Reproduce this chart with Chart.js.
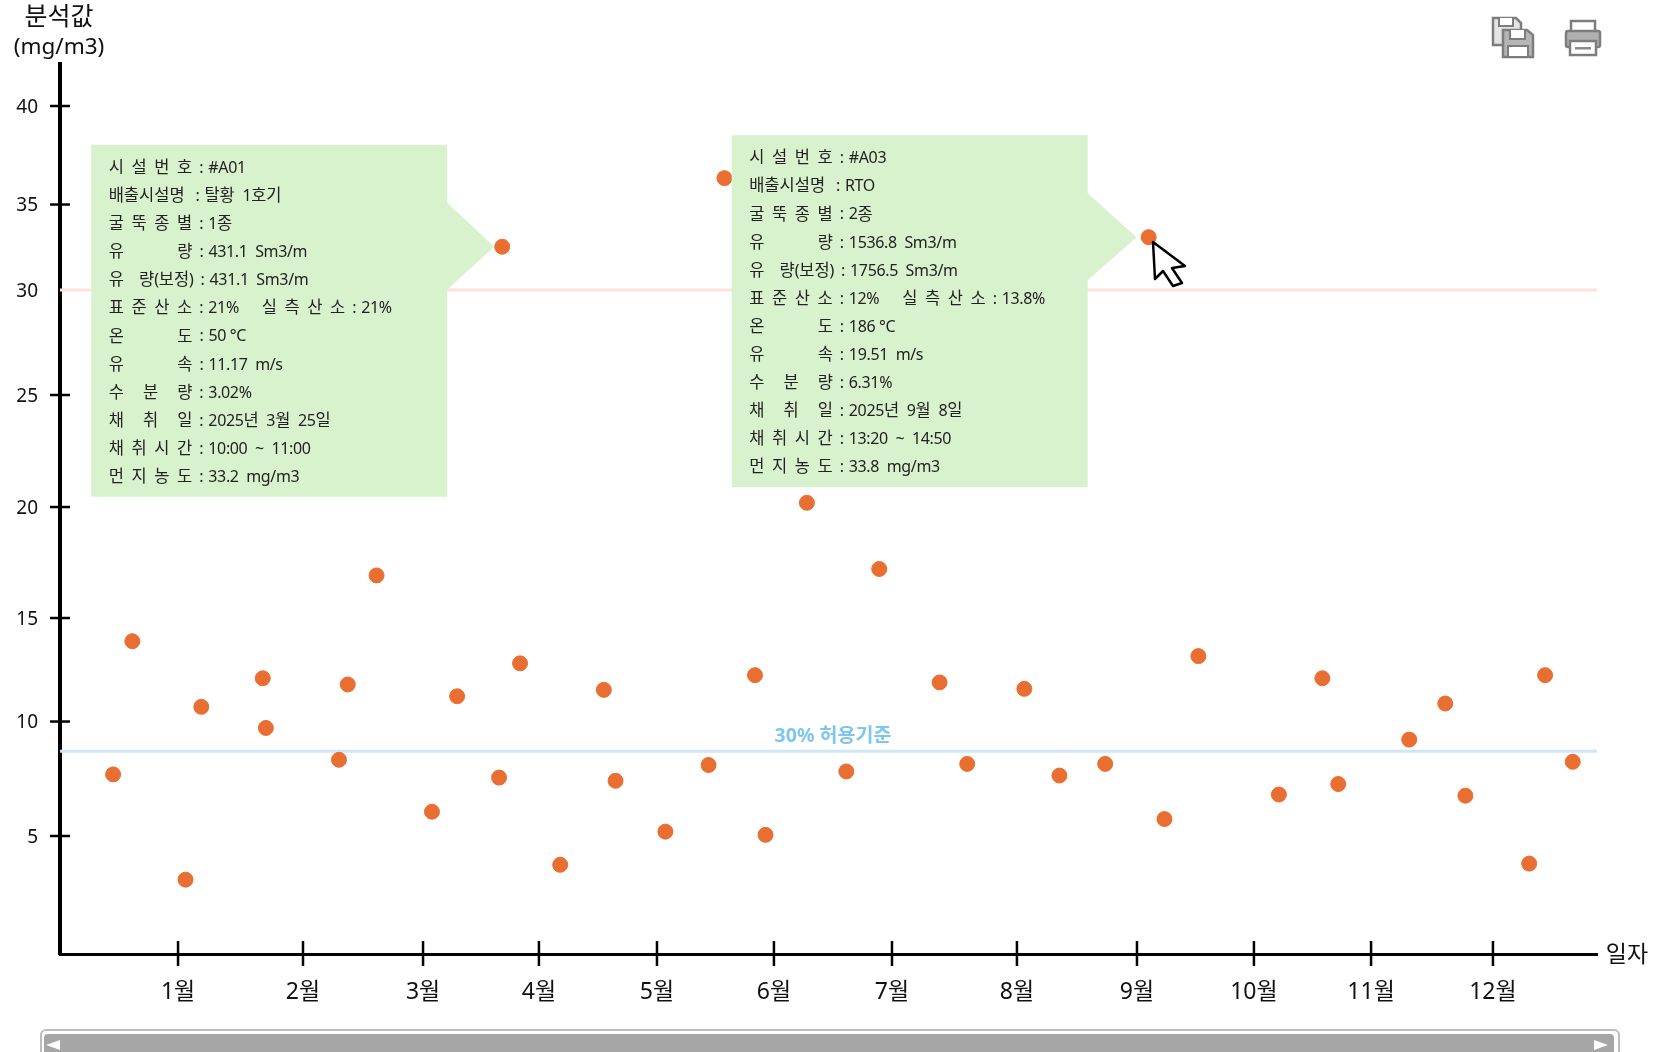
<!DOCTYPE html>
<html lang="ko">
<head>
<meta charset="utf-8">
<title>분석값</title>
<script src="https://cdn.jsdelivr.net/npm/chart.js@4/dist/chart.umd.min.js"></script>
<style>
    html, body { margin: 0; padding: 0; background: #fff; overflow: hidden; }
    #wrap { position: relative; width: 1661px; height: 1052px; overflow: hidden; }
    #chart { position: absolute; left: 0; top: 0; }
    .icon { position: absolute; }
    #scrollFrame { position: absolute; left: 40px; top: 1029px; width: 1580px; height: 40px; border: 2px solid #bdbdbd; border-radius: 6px; box-sizing: border-box; }
    #scrollBar { position: absolute; left: 2px; top: 3px; right: 4px; height: 30px; background: #a6a6a6; border-radius: 4px; }
    .arrow { position: absolute; top: 6px; width: 0; height: 0; border-top: 5px solid transparent; border-bottom: 5px solid transparent; }
    #arrowLeft { left: 2px; border-right: 14px solid #fff; }
    #arrowRight { right: 6px; border-left: 14px solid #fff; }
</style>
</head>
<body>
<div id="wrap">
    <canvas id="chart" width="1661" height="1052"></canvas>

    <svg class="icon" style="left:1490px;top:15px" width="46" height="44" viewBox="0 0 46 44">
        <path d="M3 3H26L31 8V30H3Z" fill="#e4e4e4" stroke="#7d7d7d" stroke-width="2.5"/>
        <path d="M9 3V11H23V3" fill="#fff" stroke="#7d7d7d" stroke-width="2"/>
        <path d="M13 15H37L43 20V42H13Z" fill="#b5b5b5" stroke="#7d7d7d" stroke-width="2.5"/>
        <path d="M20 15V24H35V15" fill="#fff" stroke="#7d7d7d" stroke-width="2"/>
        <rect x="18" y="31" width="20" height="11" fill="#fff" stroke="#7d7d7d" stroke-width="2"/>
    </svg>
    <svg class="icon" style="left:1564px;top:18px" width="38" height="40" viewBox="0 0 38 40">
        <rect x="7" y="3" width="24" height="11" fill="#fff" stroke="#7d7d7d" stroke-width="2.5"/>
        <rect x="2" y="13" width="34" height="16" rx="2" fill="#b0b0b0" stroke="#7d7d7d" stroke-width="2.5"/>
        <rect x="6" y="23" width="26" height="14" fill="#fff" stroke="#7d7d7d" stroke-width="2.5"/>
        <rect x="11" y="29" width="16" height="2.5" fill="#8a8a8a"/>
    </svg>
    <svg class="icon" style="left:1148px;top:238px" width="44" height="52" viewBox="0 0 44 52">
        <path d="M5 4L37 28L24 30L34 45L25 48L15 33L7 41Z" fill="#fff" stroke="#000" stroke-width="2.5" stroke-linejoin="round"/>
    </svg>

    <div id="scrollFrame">
        <div id="scrollBar">
            <div class="arrow" id="arrowLeft"></div>
            <div class="arrow" id="arrowRight"></div>
        </div>
    </div>
</div>

<script>
// Month ticks and the uneven y axis ticks
const monthTicks = [1, 2, 3, 4, 5, 6, 7, 8, 9, 10, 11, 12];
const monthLabels = ['1월', '2월', '3월', '4월', '5월', '6월', '7월', '8월', '9월', '10월', '11월', '12월'];
const valueTicks = [5, 10, 15, 20, 25, 30, 35, 40];

// Measured points: fractional month and analysis value
const pointMonth = [
    0.483, 0.636, 1.06, 1.186, 1.678, 1.703, 2.30, 2.373, 2.613, 3.077, 3.294, 3.656, 3.683, 3.837,
    4.18, 4.55, 4.649, 5.072, 5.441, 5.577, 5.838, 5.928, 6.279, 6.613, 6.892, 7.381, 7.602, 8.062,
    8.354, 8.735, 9.10, 9.235, 9.525, 10.213, 10.584, 10.72, 11.313, 11.609, 11.774, 12.296, 12.426, 12.652
];
const pointValue = [
    7.69, 13.88, 3.15, 10.71, 12.09, 9.72, 8.33, 11.79, 16.92, 6.06, 11.22, 7.55, 32.53, 12.81,
    3.78, 11.53, 7.41, 5.19, 8.10, 36.34, 12.24, 5.05, 20.19, 7.82, 17.21, 11.89, 8.15, 11.58,
    7.64, 8.15, 33.09, 5.74, 13.16, 6.81, 12.09, 7.27, 9.21, 10.87, 6.76, 3.83, 12.24, 8.24
];

// Reference lines
const limitLineMonth = [0.06, 12.85];
const limitValue = [30, 30];
const allowValue = [8.7, 8.7];
const allowLabel = '30% 허용기준';

// Callout contents
const calloutA01 = [
    '시  설  번  호 : #A01',
    '배출시설명  : 탈황  1호기',
    '굴  뚝  종  별 : 1종',
    '유              량 : 431.1  Sm3/m',
    '유    량(보정) : 431.1  Sm3/m',
    '표  준  산  소 : 21%      실  측  산  소 : 21%',
    '온              도 : 50 °C',
    '유              속 : 11.17  m/s',
    '수     분     량 : 3.02%',
    '채     취     일 : 2025년  3월  25일',
    '채  취  시  간 : 10:00  ~  11:00',
    '먼  지  농  도 : 33.2  mg/m3'
];
const calloutA03 = [
    '시  설  번  호 : #A03',
    '배출시설명  : RTO',
    '굴  뚝  종  별 : 2종',
    '유              량 : 1536.8  Sm3/m',
    '유    량(보정) : 1756.5  Sm3/m',
    '표  준  산  소 : 12%      실  측  산  소 : 13.8%',
    '온              도 : 186 °C',
    '유              속 : 19.51  m/s',
    '수     분     량 : 6.31%',
    '채     취     일 : 2025년  9월  8일',
    '채  취  시  간 : 13:20  ~  14:50',
    '먼  지  농  도 : 33.8  mg/m3'
];
const calloutPointA01 = 12;
const calloutPointA03 = 30;

const FONT = '"Noto Sans", "Noto Sans CJK KR", sans-serif';

// Linear scale whose ticks are not evenly spaced, the way the original axis is drawn
class UnevenScale extends Chart.LinearScale {
    static id = 'uneven';
    static defaults = {};

    getDecimalForValue(value) {
        const { stops, places } = this.options;
        let i = 0;
        while (i < stops.length - 2 && value > stops[i + 1]) i++;
        const t = (value - stops[i]) / (stops[i + 1] - stops[i]);
        return places[i] + t * (places[i + 1] - places[i]);
    }

    getPixelForValue(value) {
        if (value === null || isNaN(value)) return NaN;
        return this.getPixelForDecimal(this.getDecimalForValue(value));
    }
}
Chart.register(UnevenScale);

// Ticks that cross the axis lines (30 has no tick in the original)
const crossTicks = {
    id: 'crossTicks',
    afterDraw(chart) {
        const { ctx, scales: { x, y }, chartArea } = chart;
        ctx.save();
        ctx.strokeStyle = '#000';
        ctx.lineWidth = 2.5;
        x.ticks.forEach(tick => {
            const px = x.getPixelForValue(tick.value);
            ctx.beginPath();
            ctx.moveTo(px, chartArea.bottom - 13);
            ctx.lineTo(px, chartArea.bottom + 12);
            ctx.stroke();
        });
        y.ticks.forEach(tick => {
            if (tick.value === 30) return;
            const py = y.getPixelForValue(tick.value);
            ctx.beginPath();
            ctx.moveTo(chartArea.left - 10, py);
            ctx.lineTo(chartArea.left + 10, py);
            ctx.stroke();
        });
        ctx.restore();
    }
};

// Axis captions and the label on the lower reference line
const captions = {
    id: 'captions',
    afterDraw(chart) {
        const { ctx, scales: { x, y }, chartArea } = chart;
        ctx.save();
        ctx.fillStyle = '#111';
        ctx.textAlign = 'center';
        ctx.textBaseline = 'middle';
        ctx.font = '25px ' + FONT;
        ctx.fillText('분석값', chartArea.left - 1, 18);
        ctx.font = '22.5px ' + FONT;
        ctx.fillText('(mg/m3)', chartArea.left - 1, 48);
        ctx.font = '23px ' + FONT;
        ctx.fillText('일자', chartArea.right + 30, chartArea.bottom + 1);
        ctx.fillStyle = '#7fc6ec';
        ctx.font = 'bold 19.5px ' + FONT;
        ctx.fillText(allowLabel, x.getPixelForValue(6.5), y.getPixelForValue(allowValue[0]) - 15);
        ctx.restore();
    }
};

// The original pairs a wide Hangul face with a narrow Latin one, so runs get their own sizes
function drawRuns(ctx, text, x, y) {
    let width = 0;
    (text.match(/[가-힣]+|[^가-힣]+/g) || []).forEach(run => {
        const hangul = /[가-힣]/.test(run);
        ctx.font = (hangul ? '16.5px ' : '16px ') + FONT;
        ctx.letterSpacing = hangul ? '0px' : '-0.35px';
        ctx.fillText(run, x + width, y);
        width += ctx.measureText(run).width;
    });
    return width;
}

function drawCallout(chart, lines, index, tipGap, arrowLength) {
    const { ctx, scales: { x, y } } = chart;
    const px = x.getPixelForValue(pointMonth[index]);
    const py = y.getPixelForValue(pointValue[index]);
    const tipX = px - tipGap;
    const right = tipX - arrowLength;
    const left = right - 356;
    const top = py - 102;

    ctx.save();
    ctx.fillStyle = '#d9f2ce';
    ctx.beginPath();
    ctx.moveTo(left, top);
    ctx.lineTo(right, top);
    ctx.lineTo(right, py - 44);
    ctx.lineTo(tipX, py);
    ctx.lineTo(right, py + 43);
    ctx.lineTo(right, top + 352);
    ctx.lineTo(left, top + 352);
    ctx.closePath();
    ctx.fill();

    ctx.fillStyle = '#222';
    ctx.wordSpacing = '-1px';
    ctx.textAlign = 'left';
    ctx.textBaseline = 'middle';
    lines.forEach((line, i) => {
        const rowY = top + 23.5 + i * 28.1;
        let textX = left + 17.5;
        line.split(' : ').forEach((part, n) => {
            if (n > 0) {
                drawRuns(ctx, ':', textX + 7, rowY);
                textX += 16;
            }
            textX += drawRuns(ctx, part, textX, rowY);
        });
    });
    ctx.restore();
}

const callouts = {
    id: 'callouts',
    afterDatasetsDraw(chart) {
        drawCallout(chart, calloutA01, calloutPointA01, 8, 47);
        drawCallout(chart, calloutA03, calloutPointA03, 12, 49);
    }
};

const tickFont = size => ({ family: FONT, size: size });

new Chart(document.getElementById('chart'), {
    type: 'scatter',
    data: {
        datasets: [
            {
                label: '분석값',
                data: pointMonth.map((m, i) => ({ x: m, y: pointValue[i] })),
                backgroundColor: '#e96e32',
                borderColor: '#e96e32',
                pointRadius: 7.5,
                order: 0
            },
            {
                label: '기준',
                data: limitLineMonth.map((m, i) => ({ x: m, y: limitValue[i] })),
                showLine: true,
                borderColor: '#fde2da',
                borderWidth: 3,
                pointRadius: 0,
                order: 2
            },
            {
                label: allowLabel,
                data: limitLineMonth.map((m, i) => ({ x: m, y: allowValue[i] })),
                showLine: true,
                borderColor: '#cfe6f6',
                borderWidth: 3,
                pointRadius: 0,
                order: 2
            }
        ]
    },
    options: {
        responsive: false,
        animation: false,
        devicePixelRatio: 1,
        layout: { padding: { top: 64, right: 64, left: 0, bottom: 0 } },
        plugins: { legend: { display: false }, tooltip: { enabled: false } },
        scales: {
            x: {
                type: 'uneven',
                min: 0.06,
                max: 12.85,
                stops: [0.06, 1, 2, 3, 4, 5, 6, 7, 8, 9, 10, 11, 12, 12.85],
                places: [0, 0.0768, 0.1581, 0.2362, 0.3116, 0.3884, 0.4645, 0.5413, 0.6226, 0.7007, 0.7768, 0.8530, 0.9323, 1],
                afterBuildTicks(scale) { scale.ticks = monthTicks.map(value => ({ value })); },
                afterFit(scale) { scale.height = 98; },
                border: { color: '#000', width: 3 },
                grid: { drawOnChartArea: false, drawTicks: false },
                ticks: {
                    autoSkip: false,
                    maxRotation: 0,
                    padding: 25,
                    color: '#111',
                    font: tickFont(23),
                    callback: value => monthLabels[monthTicks.indexOf(value)]
                }
            },
            y: {
                type: 'uneven',
                min: 0,
                max: 42.15,
                stops: [0, 5, 10, 15, 20, 25, 30, 35, 40, 42.15],
                places: [0, 0.1326, 0.2612, 0.3775, 0.5022, 0.6281, 0.7461, 0.8421, 0.9528, 1],
                afterBuildTicks(scale) { scale.ticks = valueTicks.map(value => ({ value })); },
                afterFit(scale) { scale.width = 60; },
                border: { color: '#000', width: 4 },
                grid: { drawOnChartArea: false, drawTicks: false },
                ticks: {
                    autoSkip: false,
                    padding: 22,
                    labelOffset: 1.5,
                    color: '#111',
                    font: tickFont(19),
                    callback: value => String(value)
                }
            }
        }
    },
    plugins: [callouts, crossTicks, captions]
});
</script>
</body>
</html>
